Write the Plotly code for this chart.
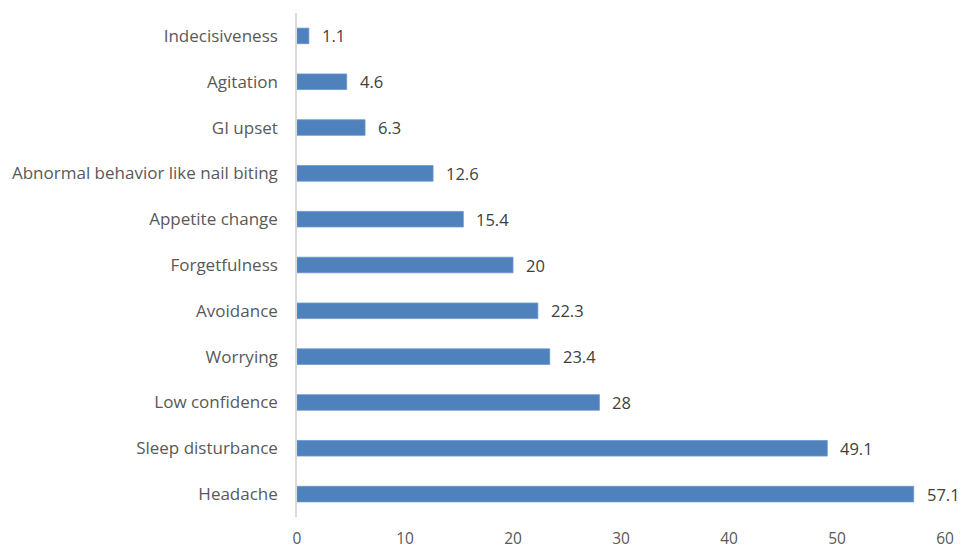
import plotly.graph_objects as go

categories = ["Headache", "Sleep disturbance", "Low confidence", "Worrying", "Avoidance",
              "Forgetfulness", "Appetite change", "Abnormal behavior like nail biting",
              "GI upset", "Agitation", "Indecisiveness"]
values = [57.1, 49.1, 28, 23.4, 22.3, 20, 15.4, 12.6, 6.3, 4.6, 1.1]
value_labels = ["57.1", "49.1", "28", "23.4", "22.3", "20", "15.4", "12.6", "6.3", "4.6", "1.1"]
x_ticks = [0, 10, 20, 30, 40, 50, 60]

font_family = "'Open Sans', Lato, sans-serif"
text_color = "#595959"

fig = go.Figure()
fig.add_trace(go.Bar(
    x=values, y=categories, orientation="h",
    marker=dict(color="#4F81BD", line=dict(color="#6A96CC", width=0.8)),
    hoverinfo="x+y",
))

for c, v, lab in zip(categories, values, value_labels):
    fig.add_annotation(x=v, y=c, text=lab, showarrow=False, xanchor="left",
                       xshift=11, font=dict(family=font_family, size=16.5, color="#404040"))

fig.update_layout(
    width=963, height=550,
    margin=dict(l=297, r=18, t=13, b=33),
    paper_bgcolor="white", plot_bgcolor="white",
    bargap=0.66,
    showlegend=False,
    font=dict(family=font_family, size=16, color=text_color),
    xaxis=dict(range=[0, 60], tickvals=x_ticks, showgrid=False, zeroline=False,
               showline=False, ticks="", ticklabelstandoff=10, automargin=False,
               tickfont=dict(size=15.5, color=text_color)),
    yaxis=dict(categoryorder="array", categoryarray=categories, showgrid=False,
               zeroline=False, showline=True, linecolor="#D9D9D9", linewidth=1.5,
               ticks="", ticklabelstandoff=14, automargin=False,
               tickfont=dict(size=17, color=text_color)),
)

fig.write_html(
    "out.html",
    config={"displayModeBar": False},
    post_script="document.body.style.margin='0';document.body.style.overflow='hidden';",
)
